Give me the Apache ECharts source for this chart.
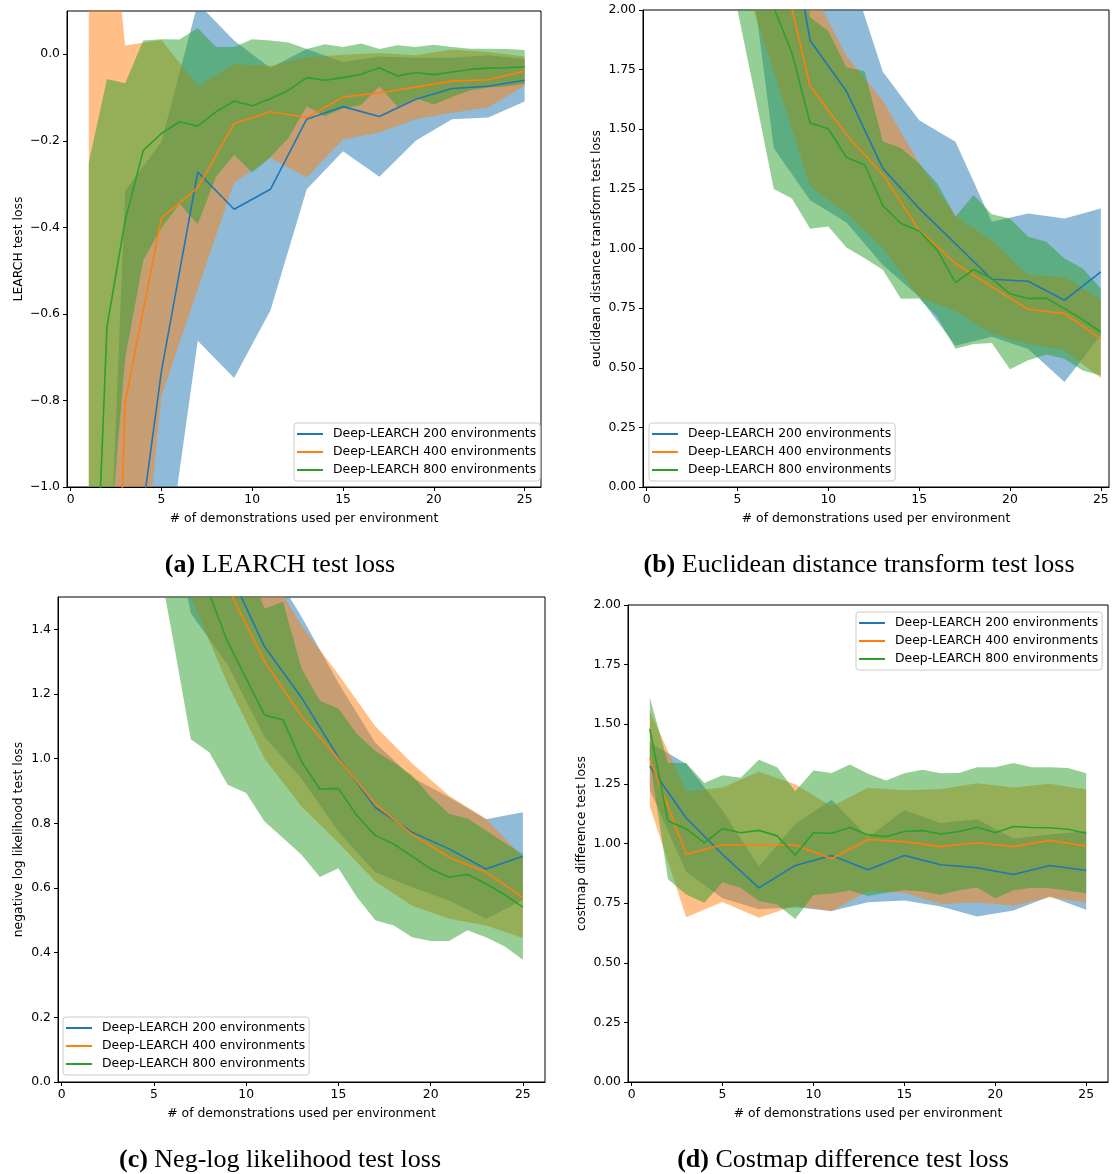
<!DOCTYPE html>
<html>
<head>
<meta charset="utf-8">
<script src="https://cdn.jsdelivr.net/npm/echarts@6.0.0/dist/echarts.min.js"></script>
<style>
  html, body { margin: 0; padding: 0; background: #ffffff; }
  #chart { width: 1118px; height: 1174px; }
</style>
</head>
<body>
<div id="chart"></div>
<script>
// ---- data -------------------------------------------------------------
// demonstrations per environment (200/400 runs every other count, 800 every count)
const demosOdd = [1, 3, 5, 7, 9, 11, 13, 15, 17, 19, 21, 23, 25];
const demosAll = [1, 2, 3, 4, 5, 6, 7, 8, 9, 10, 11, 12, 13, 14, 15, 16, 17, 18, 19, 20, 21, 22, 23, 24, 25];
const envLabels = ['Deep-LEARCH 200 environments', 'Deep-LEARCH 400 environments', 'Deep-LEARCH 800 environments'];
const xTicks = [0, 5, 10, 15, 20, 25];

// (a) LEARCH test loss: mean and standard deviation
const learch200Mean = [-3.2, -1.356, -0.732, -0.272, -0.358, -0.312, -0.150, -0.121, -0.144, -0.104, -0.079, -0.074, -0.060];
const learch200Std  = [0.8, 1.04, 0.53, 0.39, 0.39, 0.28, 0.162, 0.103, 0.139, 0.096, 0.071, 0.072, 0.049];
const learch400Mean = [-3.4, -0.805, -0.378, -0.308, -0.160, -0.133, -0.146, -0.099, -0.089, -0.076, -0.062, -0.059, -0.039];
const learch400Std  = [4.26, 0.825, 0.411, 0.235, 0.137, 0.106, 0.139, 0.098, 0.092, 0.074, 0.073, 0.064, 0.034];
const learch800Mean = [-1.68, -0.63, -0.385, -0.222, -0.183, -0.156, -0.166, -0.133, -0.108, -0.119, -0.103, -0.083, -0.054,
                       -0.060, -0.054, -0.046, -0.031, -0.050, -0.042, -0.047, -0.041, -0.035, -0.032, -0.031, -0.029];
const learch800Std  = [1.43, 0.573, 0.318, 0.254, 0.218, 0.19, 0.227, 0.15, 0.125, 0.154, 0.135, 0.11, 0.066,
                       0.083, 0.071, 0.071, 0.043, 0.071, 0.059, 0.069, 0.058, 0.048, 0.045, 0.043, 0.039];
const learchTicks = [-1.0, -0.8, -0.6, -0.4, -0.2, 0.0];

// (b) Euclidean distance transform test loss
const euclid200Mean = [6.0, 4.6, 3.7, 2.73, 1.872, 1.659, 1.336, 1.168, 1.02, 0.871, 0.863, 0.783, 0.902];
const euclid200Std  = [1.5, 1.3, 1.1, 1.31, 0.67, 0.55, 0.405, 0.37, 0.428, 0.241, 0.284, 0.343, 0.266];
const euclid400Mean = [5.5, 4.0, 2.9, 2.33, 1.68, 1.477, 1.31, 1.077, 0.937, 0.839, 0.745, 0.727, 0.622];
const euclid400Std  = [1.2, 0.9, 0.7, 0.59, 0.42, 0.33, 0.31, 0.28, 0.2, 0.196, 0.144, 0.154, 0.165];
const euclid800Mean = [5.5, 4.6, 3.8, 3.2, 2.7, 2.3, 2.01, 1.82, 1.526, 1.502, 1.382, 1.351, 1.18,
                       1.105, 1.073, 0.993, 0.857, 0.912, 0.874, 0.81, 0.79, 0.792, 0.748, 0.702, 0.65];
const euclid800Std  = [1.2, 1.0, 0.9, 0.8, 0.7, 0.67, 0.76, 0.61, 0.443, 0.41, 0.378, 0.392, 0.269,
                       0.316, 0.283, 0.28, 0.277, 0.312, 0.27, 0.316, 0.259, 0.236, 0.21, 0.214, 0.182];
const euclidTicks = [0, 0.25, 0.5, 0.75, 1.0, 1.25, 1.5, 1.75, 2.0];

// (c) negative log likelihood test loss
const nll200Mean = [4.0, 3.2, 2.6, 2.0, 1.59, 1.346, 1.189, 1.004, 0.849, 0.772, 0.721, 0.659, 0.698];
const nll200Std  = [0.8, 0.7, 0.6, 0.55, 0.3, 0.28, 0.25, 0.23, 0.2, 0.17, 0.16, 0.154, 0.136];
const nll400Mean = [3.8, 3.0, 2.4, 1.95, 1.53, 1.30, 1.132, 1.0, 0.86, 0.765, 0.695, 0.649, 0.57];
const nll400Std  = [0.8, 0.7, 0.55, 0.45, 0.3, 0.3, 0.28, 0.26, 0.24, 0.22, 0.19, 0.165, 0.125];
const nll800Mean = [4.5, 3.6, 3.0, 2.6, 2.3, 2.0, 1.75, 1.51, 1.361, 1.248, 1.135, 1.12, 0.991,
                    0.906, 0.908, 0.824, 0.762, 0.736, 0.698, 0.659, 0.633, 0.642, 0.613, 0.58, 0.541];
const nll800Std  = [0.9, 0.85, 0.8, 0.75, 0.61, 0.62, 0.69, 0.49, 0.442, 0.354, 0.329, 0.365, 0.288,
                    0.272, 0.247, 0.252, 0.262, 0.252, 0.25, 0.223, 0.197, 0.173, 0.165, 0.16, 0.163];
const nllTicks = [0, 0.2, 0.4, 0.6, 0.8, 1.0, 1.2, 1.4];

// (d) costmap difference test loss
const costmap200Mean = [1.324, 1.107, 0.954, 0.814, 0.908, 0.95, 0.89, 0.95, 0.911, 0.898, 0.87, 0.908, 0.887];
const costmap200Std  = [0.1, 0.227, 0.184, 0.09, 0.175, 0.233, 0.136, 0.189, 0.175, 0.204, 0.151, 0.13, 0.165];
const costmap400Mean = [1.356, 0.955, 0.995, 0.995, 0.994, 0.936, 1.017, 1.008, 0.987, 1.003, 0.987, 1.013, 0.989];
const costmap400Std  = [0.2, 0.264, 0.24, 0.306, 0.254, 0.22, 0.217, 0.215, 0.241, 0.25, 0.248, 0.238, 0.237];
const costmap800Mean = [1.481, 1.094, 1.062, 1.003, 1.062, 1.045, 1.055, 1.032, 0.951, 1.045, 1.043, 1.067, 1.036,
                        1.029, 1.05, 1.054, 1.04, 1.05, 1.068, 1.045, 1.071, 1.067, 1.066, 1.06, 1.043];
const costmap800Std  = [0.13, 0.244, 0.276, 0.251, 0.224, 0.231, 0.296, 0.288, 0.268, 0.261, 0.253, 0.264, 0.256,
                        0.235, 0.245, 0.255, 0.255, 0.246, 0.252, 0.275, 0.267, 0.253, 0.254, 0.257, 0.252];
const costmapTicks = [0, 0.25, 0.5, 0.75, 1.0, 1.25, 1.5, 1.75, 2.0];

// ---- styling ----------------------------------------------------------
const lineColors = ['#1f77b4', '#ff7f0e', '#2ca02c'];
const bandColors = ['rgba(31,119,180,0.5)', 'rgba(255,127,14,0.5)', 'rgba(44,160,44,0.5)'];
const UI_FONT = 'DejaVu Sans';
const UI_SIZE = 12.4;
const CAPTION_FONT = 'Liberation Serif';
const xName = '# of demonstrations used per environment';

const panels = [
  {
    tag: '(a)', caption: 'LEARCH test loss', yName: 'LEARCH test loss',
    grid: { left: 67, top: 11, width: 474, height: 476 },
    xRange: [-0.2, 25.9], yRange: [-1.0, 0.1], yTicks: learchTicks, yDecimals: 1, yNameGap: 42,
    legend: { left: 294, top: 423 }, captionAt: [280, 565],
    runs: [
      { x: demosOdd, mean: learch200Mean, std: learch200Std },
      { x: demosOdd, mean: learch400Mean, std: learch400Std },
      { x: demosAll, mean: learch800Mean, std: learch800Std }
    ]
  },
  {
    tag: '(b)', caption: 'Euclidean distance transform test loss', yName: 'euclidean distance transform test loss',
    grid: { left: 643, top: 10, width: 466, height: 477 },
    xRange: [-0.2, 25.45], yRange: [0, 2.0], yTicks: euclidTicks, yDecimals: 2, yNameGap: 40,
    legend: { left: 649, top: 423 }, captionAt: [859, 565],
    runs: [
      { x: demosOdd, mean: euclid200Mean, std: euclid200Std },
      { x: demosOdd, mean: euclid400Mean, std: euclid400Std },
      { x: demosAll, mean: euclid800Mean, std: euclid800Std }
    ]
  },
  {
    tag: '(c)', caption: 'Neg-log likelihood test loss', yName: 'negative log likelihood test loss',
    grid: { left: 58, top: 597, width: 487, height: 485 },
    xRange: [-0.2, 26.2], yRange: [0, 1.5], yTicks: nllTicks, yDecimals: 1, yNameGap: 33,
    legend: { left: 63, top: 1017 }, captionAt: [280, 1160],
    runs: [
      { x: demosOdd, mean: nll200Mean, std: nll200Std },
      { x: demosOdd, mean: nll400Mean, std: nll400Std },
      { x: demosAll, mean: nll800Mean, std: nll800Std }
    ]
  },
  {
    tag: '(d)', caption: 'Costmap difference test loss', yName: 'costmap difference test loss',
    grid: { left: 628, top: 605, width: 480, height: 477 },
    xRange: [-0.2, 26.2], yRange: [0, 2.0], yTicks: costmapTicks, yDecimals: 2, yNameGap: 40,
    legend: { left: 856, top: 612 }, captionAt: [843, 1160],
    runs: [
      { x: demosOdd, mean: costmap200Mean, std: costmap200Std },
      { x: demosOdd, mean: costmap400Mean, std: costmap400Std },
      { x: demosAll, mean: costmap800Mean, std: costmap800Std }
    ]
  }
];

function fmt(v, decimals) {
  const s = Math.abs(v).toFixed(decimals);
  return (v < 0 && Number(s) !== 0 ? '\u2212' : '') + s;
}

// mean ± std band as one polygon, projected through the grid's axes
function bandRenderer(fill) {
  return function (params, api) {
    if (params.dataIndexInside !== 0) return null;
    const n = params.dataInsideLength;
    const upper = [], lower = [];
    for (let i = 0; i < n; i++) {
      const x = api.value(0, i), m = api.value(1, i), s = api.value(2, i);
      upper.push(api.coord([x, m + s]));
      lower.push(api.coord([x, m - s]));
    }
    const cs = params.coordSys;
    return {
      type: 'polygon',
      shape: { points: upper.concat(lower.reverse()) },
      style: { fill: fill, stroke: null },
      clipPath: { type: 'rect', shape: { x: cs.x, y: cs.y, width: cs.width, height: cs.height } }
    };
  };
}

const grids = [], xAxes = [], yAxes = [], series = [], legends = [], graphics = [];

panels.forEach(function (p, gi) {
  grids.push(Object.assign({ show: true, borderColor: '#000', borderWidth: 1, backgroundColor: 'transparent' }, p.grid));

  xAxes.push({
    gridIndex: gi, type: 'value', min: p.xRange[0], max: p.xRange[1],
    axisLine: { show: true, onZero: false, lineStyle: { color: '#000', width: 1 } },
    axisTick: { show: true, length: 4, lineStyle: { color: '#000', width: 1 }, customValues: xTicks },
    axisLabel: { color: '#000', fontFamily: UI_FONT, fontSize: UI_SIZE, margin: 7, customValues: xTicks,
                 formatter: function (v) { return String(v); } },
    splitLine: { show: false },
    name: xName, nameLocation: 'middle', nameGap: 26,
    nameTextStyle: { color: '#000', fontFamily: UI_FONT, fontSize: UI_SIZE }
  });

  yAxes.push({
    gridIndex: gi, type: 'value', min: p.yRange[0], max: p.yRange[1],
    axisLine: { show: true, onZero: false, lineStyle: { color: '#000', width: 1 } },
    axisTick: { show: true, length: 4, lineStyle: { color: '#000', width: 1 }, customValues: p.yTicks },
    axisLabel: { color: '#000', fontFamily: UI_FONT, fontSize: UI_SIZE, margin: 7, customValues: p.yTicks,
                 formatter: (function (d) { return function (v) { return fmt(v, d); }; })(p.yDecimals) },
    splitLine: { show: false },
    name: p.yName, nameLocation: 'middle', nameGap: p.yNameGap,
    nameTextStyle: { color: '#000', fontFamily: UI_FONT, fontSize: UI_SIZE }
  });

  p.runs.forEach(function (r, ri) {
    series.push({
      type: 'custom', xAxisIndex: gi, yAxisIndex: gi, silent: true, z: 2 + ri,
      encode: { x: 0, y: 1 },
      data: r.x.map(function (x, i) { return [x, r.mean[i], r.std[i]]; }),
      renderItem: bandRenderer(bandColors[ri])
    });
  });

  p.runs.forEach(function (r, ri) {
    series.push({
      type: 'line', name: envLabels[ri], xAxisIndex: gi, yAxisIndex: gi,
      data: r.x.map(function (x, i) { return [x, r.mean[i]]; }),
      symbol: 'none', showSymbol: false, clip: true, silent: true, z: 10,
      lineStyle: { color: lineColors[ri], width: 1.6 },
      itemStyle: { color: lineColors[ri] }
    });
  });

  legends.push({
    orient: 'vertical', left: p.legend.left, top: p.legend.top,
    data: envLabels, selectedMode: false,
    icon: 'path://M0 0H26V2H0Z', itemWidth: 26, itemHeight: 2, itemGap: 4,
    padding: [4, 4, 4, 3],
    backgroundColor: 'rgba(255,255,255,0.8)', borderColor: '#cccccc', borderWidth: 1, borderRadius: 3,
    textStyle: { color: '#000', fontFamily: UI_FONT, fontSize: UI_SIZE, lineHeight: 14, padding: [0, 0, 0, 5] }
  });

  graphics.push({
    type: 'text', x: p.captionAt[0], y: p.captionAt[1], silent: true,
    style: {
      text: '{b|' + p.tag + '} ' + p.caption,
      fontFamily: CAPTION_FONT, fontSize: 26, fill: '#000',
      align: 'center', verticalAlign: 'middle',
      rich: { b: { fontFamily: CAPTION_FONT, fontSize: 26, fontWeight: 'bold', fill: '#000' } }
    }
  });
});

const chart = echarts.init(document.getElementById('chart'), null, { renderer: 'canvas' });
chart.setOption({
  animation: false,
  backgroundColor: '#ffffff',
  grid: grids,
  xAxis: xAxes,
  yAxis: yAxes,
  legend: legends,
  series: series,
  graphic: graphics
});
</script>
</body>
</html>
